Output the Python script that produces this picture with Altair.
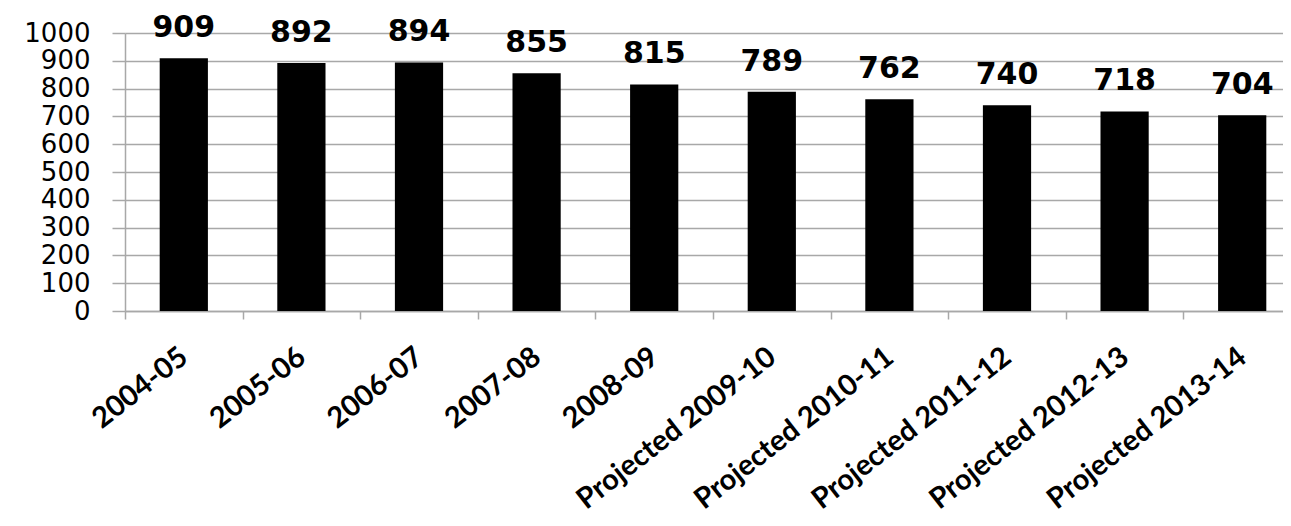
import altair as alt
import pandas as pd

categories = ["2004-05", "2005-06", "2006-07", "2007-08", "2008-09",
              "Projected 2009-10", "Projected 2010-11", "Projected 2011-12",
              "Projected 2012-13", "Projected 2013-14"]
values = [909, 892, 894, 855, 815, 789, 762, 740, 718, 704]
y_ticks = [0, 100, 200, 300, 400, 500, 600, 700, 800, 900, 1000]

df = pd.DataFrame({"period": categories, "count": values})

GRAY = "#a8a8a8"

x = alt.X(
    "period:N", sort=categories, title=None,
    scale=alt.Scale(range=[0, 1176], paddingInner=0, paddingOuter=0),
    axis=alt.Axis(
        labelAngle=-38, labelAlign="right", labelBaseline="middle",
        labelFont="Lato", labelFontWeight="bold", labelFontSize=29,
        labelColor="black", labelPadding=34, labelLimit=500, labelOverlap=False,
        tickBand="extent", tickSize=8, tickColor=GRAY, tickWidth=1.5,
        domainColor=GRAY, domainWidth=1.5, grid=False,
    ),
)
y = alt.Y(
    "count:Q", title=None,
    scale=alt.Scale(domain=[0, 1000], nice=False),
    axis=alt.Axis(
        values=y_ticks, format="d", labelOverlap=False,
        labelFont="DejaVu Sans", labelFontSize=26,
        labelColor="black", labelPadding=22, tickSize=13, tickColor=GRAY,
        tickWidth=1.5, domainColor=GRAY, domainWidth=1.5,
        grid=True, gridColor=GRAY, gridWidth=1.5,
    ),
)

bars = alt.Chart(df).mark_bar(color="black", width=alt.RelativeBandSize(0.41)).encode(x=x, y=y)
labels = alt.Chart(df).mark_text(
    font="DejaVu Sans", fontWeight="bold", fontSize=30, dy=-21,
    baseline="alphabetic", color="black",
).encode(x=x, y=y, text="count:Q")

chart = alt.layer(bars, labels).properties(
    width=1158, height=278,
    autosize=alt.AutoSizeParams(type="none"),
    padding={"left": 117, "top": 25, "right": 0, "bottom": 207},
).configure_view(stroke=None)

chart.save("out.html", embed_options={"renderer": "svg", "actions": False})
